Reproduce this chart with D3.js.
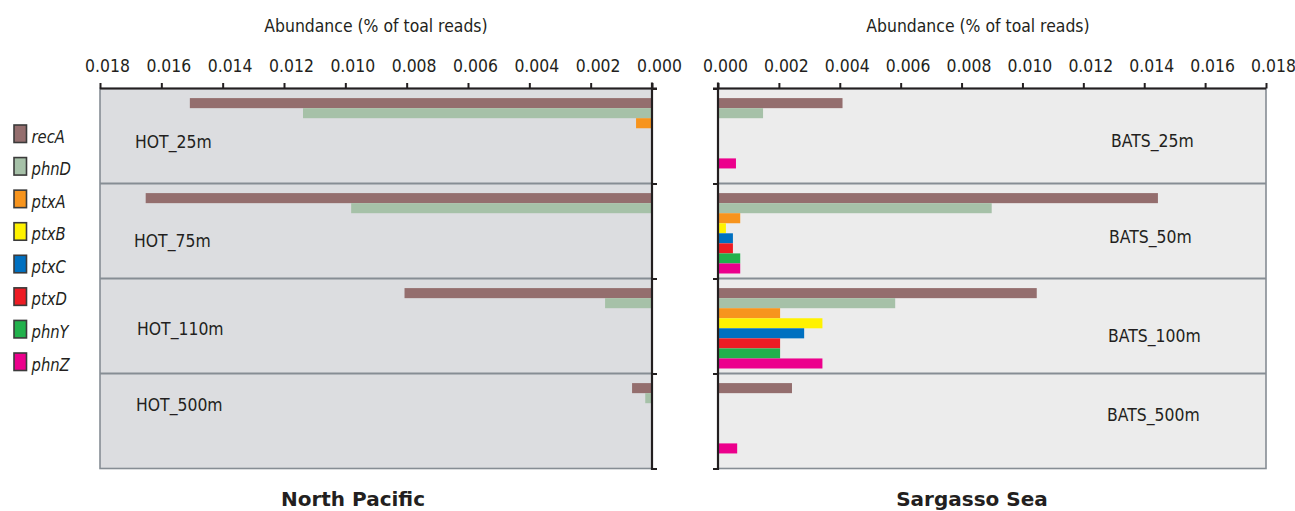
<!DOCTYPE html>
<html>
<head>
<meta charset="utf-8">
<script src="https://cdn.jsdelivr.net/npm/d3@7"></script>
<style>
  html, body { margin: 0; padding: 0; background: #fff; }
  svg { display: block; font-family: "DejaVu Sans", sans-serif; }
  .lbl { fill: #231f20; }
</style>
</head>
<body>
<svg id="chart" width="1295" height="511"></svg>
<script>
// ---- data -------------------------------------------------------
const genes = ["recA", "phnD", "ptxA", "ptxB", "ptxC", "ptxD", "phnY", "phnZ"];
const geneColors = ["#946e6e", "#a6c1a8", "#f7941d", "#fff200", "#0070c0", "#ed1c24", "#22b14c", "#ec008c"];

const hotStations = ["HOT_25m", "HOT_75m", "HOT_110m", "HOT_500m"];
const batsStations = ["BATS_25m", "BATS_50m", "BATS_100m", "BATS_500m"];

// one value per gene (null = gene not reported at that depth, no slot)
const hot25 = [0.01507, 0.01138, 0.00052, 0, 0, 0, null, 0];
const hot75 = [0.01651, 0.00981, 0, 0, 0, 0, 0, 0];
const hot110 = [0.00807, 0.00153, 0, 0, 0, 0, 0, 0];
const hot500 = [0.00065, 0.00022, 0, 0, 0, 0, null, 0];

const bats25 = [0.00409, 0.00148, 0, 0, 0, 0, null, 0.00059];
const bats50 = [0.01445, 0.00899, 0.00073, 0.00026, 0.00049, 0.00049, 0.00073, 0.00073];
const bats100 = [0.01047, 0.00582, 0.00204, 0.00343, 0.00283, 0.00204, 0.00204, 0.00343];
const bats500 = [0.00243, 0, 0, 0, 0, 0, null, 0.00063];

const xTicks = [0, 0.002, 0.004, 0.006, 0.008, 0.010, 0.012, 0.014, 0.016, 0.018];
const axisTitle = "Abundance (% of toal reads)";
const panelTitles = ["North Pacific", "Sargasso Sea"];

// ---- layout -----------------------------------------------------
const svg = d3.select("#chart");
const plotTop = 88.5, plotBottom = 468.5;
const squeeze = 0.87;          // regular text is set narrow
const ink = "#231f20";
const slot = 10.05;            // height of one gene bar
const slotOffset = 9.6;        // gap from band top to first bar

const panels = [
  {
    stations: hotStations, values: [hot25, hot75, hot110, hot500],
    x0: 652, x1: 100, bg: "#dcdde0", flip: true,
    titleX: 376, bigTitleX: 353,
    labels: [[135, 59.8], [134, 63], [137, 56.5], [136, 37.2]]
  },
  {
    stations: batsStations, values: [bats25, bats50, bats100, bats500],
    x0: 718, x1: 1266, bg: "#ececec", flip: false,
    titleX: 978, bigTitleX: 972,
    labels: [[1111, 58.8], [1109, 59.2], [1108, 63.8], [1107, 47.2]]
  }
];

const yBand = d3.scaleBand().range([plotTop, plotBottom]);

panels.forEach((p) => {
  const g = svg.append("g");
  const x = d3.scaleLinear().domain([0, 0.018]).range([p.x0, p.x1]);
  yBand.domain(p.stations);
  const left = Math.min(p.x0, p.x1), right = Math.max(p.x0, p.x1);

  // plot background + frame
  g.append("rect")
    .attr("x", left).attr("y", plotTop)
    .attr("width", right - left).attr("height", plotBottom - plotTop)
    .attr("fill", p.bg)
    .attr("stroke", "#868d94").attr("stroke-width", 1.6);

  // band dividers
  g.selectAll(".div")
    .data(p.stations.slice(1))
    .enter().append("line")
    .attr("x1", left).attr("x2", right)
    .attr("y1", (d) => yBand(d)).attr("y2", (d) => yBand(d))
    .attr("stroke", "#868d94").attr("stroke-width", 1.8);

  // bars
  p.stations.forEach((st, i) => {
    const vals = p.values[i];
    const present = genes.filter((gname, k) => vals[k] !== null);
    const y0 = yBand(st) + slotOffset;
    const ySub = d3.scaleBand().domain(present).range([y0, y0 + present.length * slot]);
    const rows = genes.map((gname, k) => ({ gene: gname, v: vals[k], c: geneColors[k] }))
      .filter((d) => d.v);
    g.selectAll(null)
      .data(rows)
      .enter().append("rect")
      .attr("x", (d) => Math.min(x(0), x(d.v)))
      .attr("width", (d) => Math.abs(x(d.v) - x(0)))
      .attr("y", (d) => ySub(d.gene))
      .attr("height", ySub.bandwidth())
      .attr("fill", (d) => d.c);

    // station label
    g.append("text")
      .attr("class", "lbl")
      .attr("transform", `translate(${p.labels[i][0]},${yBand(st) + p.labels[i][1]}) scale(${squeeze},1)`)
      .attr("font-size", 18)
      .text(st);
  });

  // top axis
  const xAxis = d3.axisTop(x).tickValues(xTicks).tickFormat(d3.format(".3f"))
    .tickSize(5.5).tickSizeOuter(0).tickPadding(11.5);
  const ax = g.append("g").attr("transform", `translate(0,${plotTop})`).call(xAxis);
  ax.select(".domain").remove();
  ax.append("line")
    .attr("x1", p.flip ? p.x1 : p.x0 - 5).attr("x2", p.flip ? p.x0 + 5 : p.x1)
    .attr("stroke", ink).attr("stroke-width", 2);
  ax.selectAll(".tick line").attr("stroke", ink).attr("stroke-width", 2);
  ax.selectAll(".tick text")
    .attr("fill", ink)
    .attr("font-family", "DejaVu Sans")
    .attr("font-size", 18)
    .attr("x", 8)
    .attr("transform", `scale(${squeeze},1)`);

  // vertical axis along the zero line with ticks at band edges
  const yEdge = d3.scaleLinear().domain([0, p.stations.length]).range([plotTop, plotBottom]);
  const yAxis = (p.flip ? d3.axisRight(yEdge) : d3.axisLeft(yEdge))
    .tickValues(d3.range(p.stations.length + 1)).tickFormat("").tickSize(5).tickSizeOuter(0);
  const ay = g.append("g").attr("transform", `translate(${p.x0},0)`).call(yAxis);
  ay.select(".domain").remove();
  ay.append("line").attr("y1", plotTop - 6).attr("y2", plotBottom + 1.5)
    .attr("stroke", ink).attr("stroke-width", 2.2);
  ay.selectAll(".tick line").attr("stroke", ink).attr("stroke-width", 2);

  // axis title
  svg.append("text")
    .attr("class", "lbl")
    .attr("transform", `translate(${p.titleX},32) scale(${squeeze},1)`)
    .attr("text-anchor", "middle")
    .attr("font-size", 18)
    .text(axisTitle);
});

// panel names below
svg.selectAll(".ptitle")
  .data(panelTitles)
  .enter().append("text")
  .attr("class", "lbl")
  .attr("x", (d, i) => panels[i].bigTitleX)
  .attr("y", 506)
  .attr("text-anchor", "middle")
  .attr("font-size", 20)
  .attr("font-weight", "bold")
  .text((d) => d);

// legend
const legY = d3.scalePoint().domain(genes).range([125, 353]);
const leg = svg.append("g");
leg.selectAll("rect")
  .data(genes)
  .enter().append("rect")
  .attr("x", 14).attr("y", (d) => legY(d))
  .attr("width", 12.5).attr("height", 17.5)
  .attr("fill", (d, i) => geneColors[i])
  .attr("stroke", "#3b3b3b").attr("stroke-width", 1.6);
leg.selectAll("text")
  .data(genes)
  .enter().append("text")
  .attr("class", "lbl")
  .attr("transform", (d) => `translate(31.5,${legY(d) + 17.5}) scale(${squeeze},1)`)
  .attr("font-size", 17)
  .attr("font-style", "italic")
  .text((d) => d);
</script>
</body>
</html>
